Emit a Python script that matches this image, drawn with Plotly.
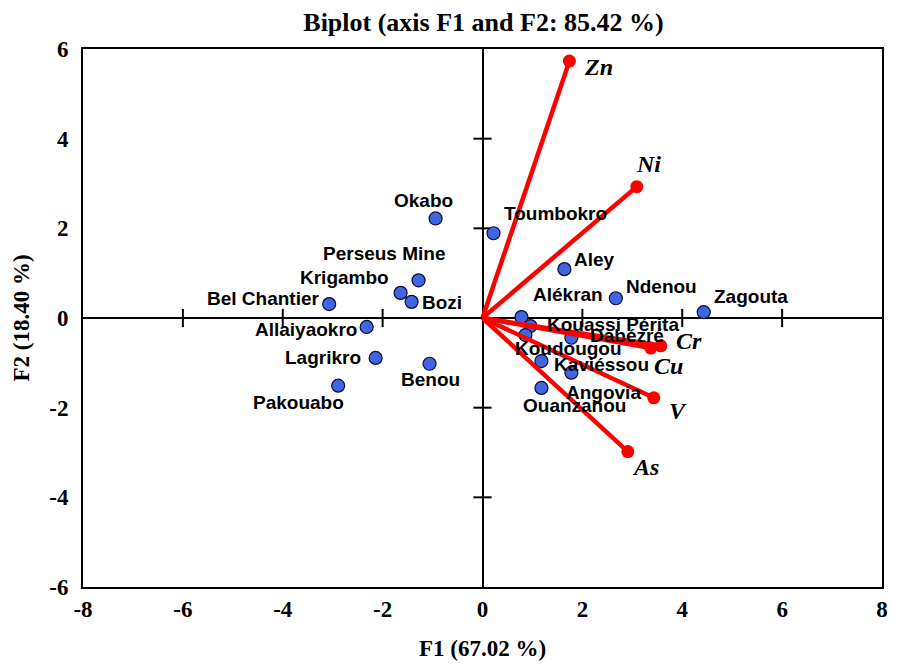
import plotly.graph_objects as go

# Observations (F1, F2 scores)
obs_names = ["Okabo", "Toumbokro", "Perseus Mine", "Krigambo", "Bozi", "Bel Chantier",
             "Allaiyaokro", "Lagrikro", "Benou", "Pakouabo", "Aley", "Ndenou", "Alékran",
             "Zagouta", "Kouassi Périta", "Dabézré", "Koudougou", "Kaviéssou", "Angovia",
             "Ouanzanou"]
obs_f1 = [-0.94, 0.22, -1.28, -1.64, -1.42, -3.07, -2.32, -2.14, -1.06, -2.89,
          1.64, 2.67, 0.78, 4.43, 0.96, 1.78, 0.86, 1.18, 1.78, 1.18]
obs_f2 = [2.22, 1.89, 0.84, 0.56, 0.36, 0.31, -0.20, -0.89, -1.02, -1.51,
          1.09, 0.44, 0.02, 0.13, -0.18, -0.44, -0.38, -0.96, -1.22, -1.56]

# Variables (scaled loadings)
var_names = ["Zn", "Ni", "Cr", "Cu", "V", "As"]
var_f1 = [1.74, 3.09, 3.57, 3.37, 3.43, 2.91]
var_f2 = [5.73, 2.93, -0.62, -0.67, -1.78, -2.98]

x_ticks = [-8, -6, -4, -2, 0, 2, 4, 6, 8]
y_ticks = [-6, -4, -2, 0, 2, 4, 6]
x_cross_ticks = [-6, -4, -2, 2, 4, 6]
y_cross_ticks = [-4, -2, 2, 4]

# label placement offsets in pixels (style only)
obs_label_dx = [-12, 62, -34, -56, 30, -66, -61, -53, 1, -40, 30, 46, 47, 47, 83, 56, 43, 60, 32, 33]
obs_label_dy = [-18, -20, -27, -15, 1, -6, 3, 0, 16, 17, -10, -12, -23, -16, -2, -2, 13, 3, 20, 18]
var_label_dx = [29, 12, 28, 18, 24, 18]
var_label_dy = [6, -23, -5, 18, 13, 15]

fig = go.Figure()

# cross ticks on the zero axes
fig.add_trace(go.Scatter(x=x_cross_ticks, y=[0] * len(x_cross_ticks), mode="markers",
                         marker=dict(symbol="line-ns", size=13, line=dict(color="black", width=2)),
                         hoverinfo="skip", showlegend=False))
fig.add_trace(go.Scatter(x=[0] * len(y_cross_ticks), y=y_cross_ticks, mode="markers",
                         marker=dict(symbol="line-ew", size=13, line=dict(color="black", width=2)),
                         hoverinfo="skip", showlegend=False))

# observations
fig.add_trace(go.Scatter(
    x=obs_f1, y=obs_f2, mode="markers",
    marker=dict(size=13, color="#3f66e0", line=dict(color="#0a0a3a", width=1.2)),
    text=obs_names, hoverinfo="text", showlegend=False))

obs_font = dict(family="Liberation Sans, Arial", size=19, color="black", weight="bold")
for name, x, y, dx, dy in zip(obs_names, obs_f1, obs_f2, obs_label_dx, obs_label_dy):
    fig.add_annotation(x=x, y=y, text=name, showarrow=False, xshift=dx, yshift=-dy,
                       font=obs_font, xanchor="center", yanchor="middle")

# variable vectors
lx, ly = [], []
for a, b in zip(var_f1, var_f2):
    lx += [0, a, None]
    ly += [0, b, None]
fig.add_trace(go.Scatter(x=lx, y=ly, mode="lines", line=dict(color="#ff0000", width=4.5),
                         hoverinfo="skip", showlegend=False))
fig.add_trace(go.Scatter(
    x=var_f1, y=var_f2, mode="markers", marker=dict(size=13, color="#ff0000"),
    text=var_names, hoverinfo="text", showlegend=False))

var_font = dict(family="Liberation Serif, Times New Roman", size=24, color="black",
                style="italic", weight="bold")
for name, x, y, dx, dy in zip(var_names, var_f1, var_f2, var_label_dx, var_label_dy):
    fig.add_annotation(x=x, y=y, text=name, showarrow=False, xshift=dx, yshift=-dy,
                       font=var_font, xanchor="center", yanchor="middle")

axis_font = dict(family="Liberation Serif, Times New Roman", size=23, color="black", weight="bold")
title_font = dict(family="Liberation Serif, Times New Roman", size=23, color="black", weight="bold")

fig.update_layout(
    width=903, height=665,
    margin=dict(l=75, r=29, t=41, b=86),
    paper_bgcolor="white", plot_bgcolor="white",
    title=dict(text="Biplot (axis F1 and F2: 85.42 %)", x=0.5266, xanchor="center",
               y=0.979, yanchor="middle",
               font=dict(family="Liberation Serif, Times New Roman", size=26, color="black",
                         weight="bold")),
    xaxis=dict(range=[-8, 8], tickvals=x_ticks, ticktext=[str(v) for v in x_ticks],
               showgrid=False, zeroline=True, zerolinecolor="black", zerolinewidth=2,
               showline=True, linecolor="black", linewidth=2, mirror=True,
               ticks="", tickfont=axis_font, ticklabelstandoff=0, automargin=False,
               title=dict(text="F1 (67.02 %)", font=title_font, standoff=19)),
    yaxis=dict(range=[-6, 6], tickvals=y_ticks, ticktext=[str(v) for v in y_ticks],
               showgrid=False, zeroline=True, zerolinecolor="black", zerolinewidth=2,
               showline=True, linecolor="black", linewidth=2, mirror=True,
               ticks="", tickfont=axis_font, ticklabelstandoff=8, automargin=False,
               title=dict(text="F2 (18.40 %)", font=title_font, standoff=13)),
)

fig.write_html("out.html")
